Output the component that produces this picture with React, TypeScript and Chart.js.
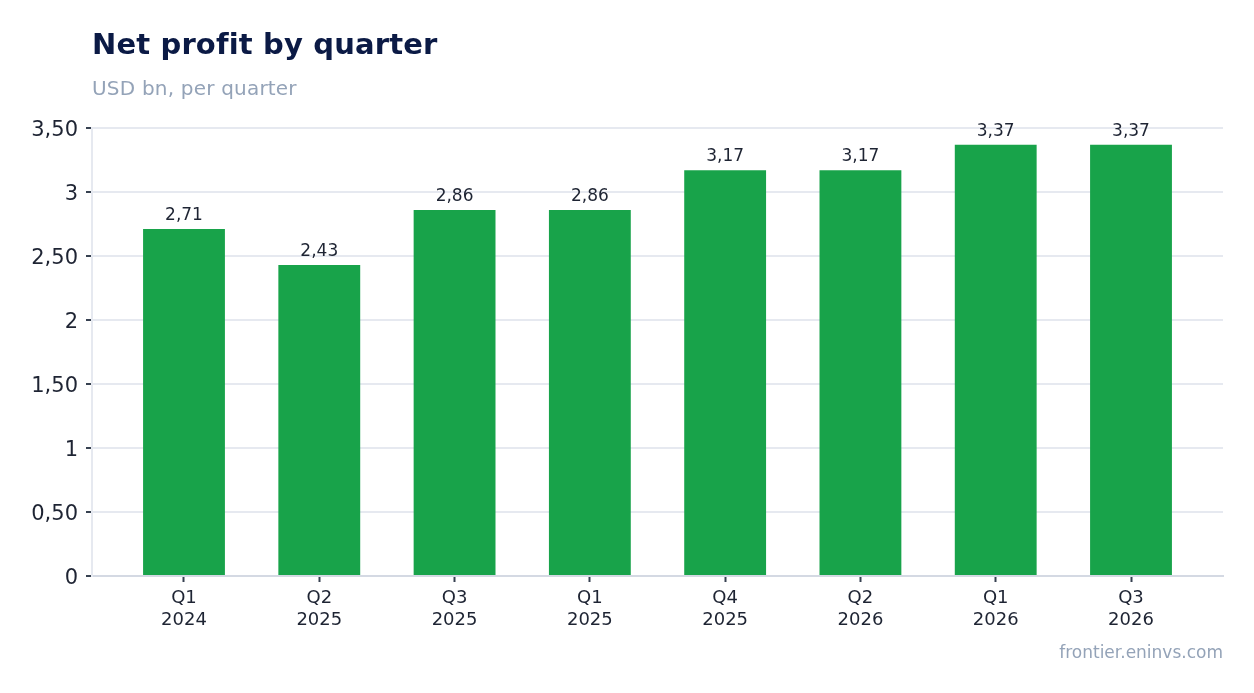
import { useEffect, useRef } from "react";
import { Chart, registerables } from "chart.js";
Chart.register(...registerables);

const quarters = ["Q1", "Q2", "Q3", "Q1", "Q4", "Q2", "Q1", "Q3"];
const years = ["2024", "2025", "2025", "2025", "2025", "2026", "2026", "2026"];
const netProfit = [2.71, 2.43, 2.86, 2.86, 3.17, 3.17, 3.37, 3.37];

const TITLE = "Net profit by quarter";
const SUBTITLE = "USD bn, per quarter";
const SOURCE = "frontier.eninvs.com";

const FONT = "'DejaVu Sans', sans-serif";
const INK = "#1e2433";

const fmt = (v: number) =>
    Number.isInteger(v) ? String(v) : v.toFixed(2).replace(".", ",");

// draws title, subtitle, source and the value labels above bars
const textPlugin = {
    id: "texts",
    afterDraw(chart: any) {
        const ctx = chart.ctx;
        const area = chart.chartArea;
        ctx.save();
        ctx.textAlign = "left";
        ctx.textBaseline = "alphabetic";
        ctx.fillStyle = "#0b1a45";
        ctx.font = `bold 29px ${FONT}`;
        ctx.letterSpacing = "0.15px";
        ctx.fillText(TITLE, area.left, 54);
        ctx.fillStyle = "#94a3b8";
        ctx.font = `20px ${FONT}`;
        ctx.letterSpacing = "0.2px";
        ctx.fillText(SUBTITLE, area.left, 95);
        ctx.letterSpacing = "0px";
        ctx.textAlign = "right";
        ctx.font = `17px ${FONT}`;
        ctx.fillText(SOURCE, area.right, 658);

        const meta = chart.getDatasetMeta(0);
        ctx.textAlign = "center";
        ctx.textBaseline = "bottom";
        ctx.fillStyle = INK;
        ctx.font = `17px ${FONT}`;
        meta.data.forEach((bar: any, i: number) => {
            ctx.fillText(fmt(netProfit[i]), bar.x, bar.y - 5);
        });
        ctx.restore();
    },
};

const App = () => {
    const chartRef = useRef<HTMLCanvasElement | null>(null);
    const chartInstance = useRef<Chart | null>(null);

    useEffect(() => {
        if (!chartRef.current) return;
        const ctx = chartRef.current.getContext("2d");
        if (!ctx) return;
        if (chartInstance.current) chartInstance.current.destroy();

        Chart.defaults.font.family = FONT;

        chartInstance.current = new Chart(ctx, {
            type: "bar",
            data: {
                datasets: [
                    {
                        label: "Net profit",
                        data: netProfit.map((v, i) => ({ x: i, y: v })),
                        backgroundColor: "#18a34a",
                        categoryPercentage: 1,
                        barPercentage: 0.605,
                    },
                ],
            },
            options: {
                responsive: false,
                animation: false,
                layout: { padding: { top: 128, right: 31, bottom: 0, left: 0 } },
                plugins: {
                    legend: { display: false },
                    tooltip: { enabled: false },
                },
                scales: {
                    x: {
                        type: "linear",
                        min: -0.68,
                        max: quarters.length - 1 + 0.68,
                        offset: false,
                        afterFit: (scale: any) => {
                            scale.height = 117;
                        },
                        afterBuildTicks: (scale: any) => {
                            scale.ticks = quarters.map((_, i) => ({ value: i }));
                        },
                        grid: {
                            offset: false,
                            drawOnChartArea: false,
                            drawTicks: true,
                            tickLength: 6,
                            tickColor: "#374151",
                            tickWidth: 2,
                        },
                        border: { color: "#d4d9e3", width: 2 },
                        ticks: {
                            color: INK,
                            padding: 6,
                            font: { size: 18, lineHeight: 1.2 },
                            maxRotation: 0,
                            autoSkip: false,
                            callback: (v: any) => {
                                const i = Math.round(Number(v));
                                return [quarters[i], years[i]];
                            },
                        },
                    },
                    y: {
                        min: 0,
                        max: 3.5,
                        afterFit: (scale: any) => {
                            scale.width = 92;
                        },
                        grid: {
                            color: "#e6e9f0",
                            lineWidth: 2,
                            tickLength: 6,
                            tickColor: "#374151",
                            tickWidth: 2,
                        },
                        border: { color: "#e6e9f0", width: 2 },
                        ticks: {
                            stepSize: 0.5,
                            color: INK,
                            padding: 8,
                            labelOffset: 3,
                            font: { size: 21 },
                            callback: (v: any) => fmt(Number(v)),
                        },
                    },
                },
            },
            plugins: [textPlugin],
        });

        return () => {
            if (chartInstance.current) {
                chartInstance.current.destroy();
                chartInstance.current = null;
            }
        };
    }, []);

    return (
        <div style={{ position: "fixed", left: 0, top: 0, width: 1254, height: 693, background: "#fff" }}>
            <canvas ref={chartRef} width={1254} height={693}></canvas>
        </div>
    );
};

export default App;
